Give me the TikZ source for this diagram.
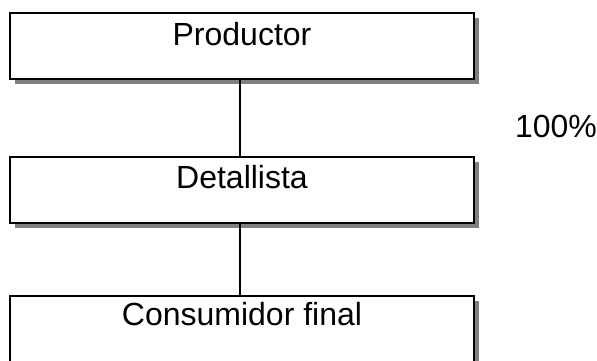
\documentclass[tikz,border=0pt]{standalone}
\usepackage{fontspec}
\setmainfont{Liberation Sans}
\begin{document}
\begin{tikzpicture}[x=1pt,y=-1pt,
  box/.style={draw=black,line width=1.6pt,fill=white,minimum width=464pt,minimum height=66pt,inner sep=0pt,
    preaction={draw=none,fill=black!50,transform canvas={shift={(5pt,-5pt)}}}},
  lbl/.style={font=\fontsize{32}{32}\selectfont,anchor=base,inner sep=0pt},
  conn/.style={line width=1.2pt}]
\useasboundingbox (0,0) rectangle (597,360);
\clip (0,0) rectangle (597,360);
\node[box] (p) at (242,46) {};
\node[box] (d) at (242,190) {};
\node[box] (c) at (242,329) {};
\node[lbl] (tp) at (242,45) {Productor};
\node[lbl] (td) at (242,188) {Detallista};
\node[lbl] (tc) at (242,325) {Consumidor final};
\node[lbl] (pct) at (556,137) {100\%};
\draw[conn] (p.south -| 240,0) -- (d.north -| 240,0);
\draw[conn] (d.south -| 240,0) -- (c.north -| 240,0);
\end{tikzpicture}
\end{document}
